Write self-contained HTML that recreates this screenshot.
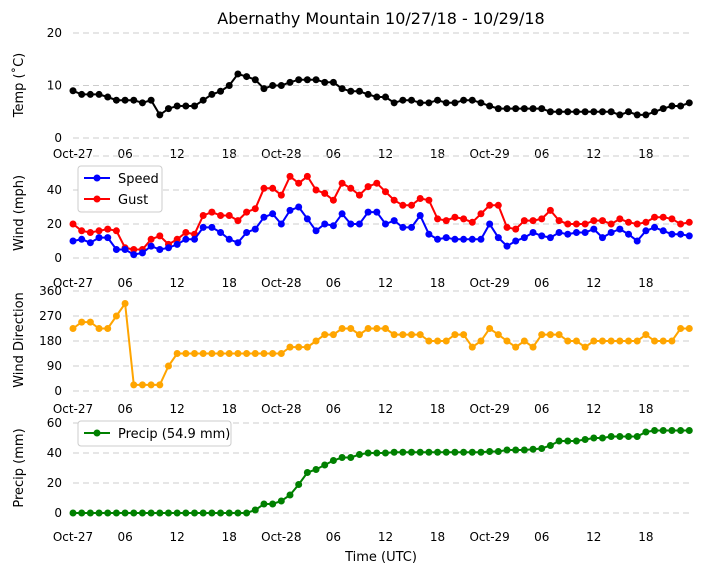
<!DOCTYPE html>
<html><head><meta charset="utf-8"><style>
body{margin:0;background:#fff;font-family:"Liberation Sans","DejaVu Sans",sans-serif}
svg text{font-family:"DejaVu Sans","Liberation Sans",sans-serif}
</style></head><body>
<svg id="c" width="704" height="573" xmlns="http://www.w3.org/2000/svg">
<text x="381" y="24" font-size="16" text-anchor="middle">Abernathy Mountain 10/27/18 - 10/29/18</text>
<text x="381" y="561" font-size="13" text-anchor="middle">Time (UTC)</text>
</svg>
<script>
const tickLabels=["Oct-27","06","12","18","Oct-28","06","12","18","Oct-29","06","12","18"];
const temp=[9,8.3,8.3,8.3,7.8,7.2,7.2,7.2,6.7,7.2,4.4,5.6,6.1,6.1,6.1,7.2,8.3,8.9,10,12.2,11.7,11.1,9.4,10,10,10.6,11.1,11.1,11.1,10.6,10.6,9.4,8.9,8.9,8.3,7.8,7.8,6.7,7.2,7.2,6.7,6.7,7.2,6.7,6.7,7.2,7.2,6.7,6.1,5.6,5.6,5.6,5.6,5.6,5.6,5,5,5,5,5,5,5,5,4.4,5,4.4,4.4,5,5.6,6.1,6.1,6.7];
const speed=[10,11,9,12,12,5,5,2,3,7,5,6,8,11,11,18,18,15,11,9,15,17,24,26,20,28,30,23,16,20,19,26,20,20,27,27,20,22,18,18,25,14,11,12,11,11,11,11,20,12,7,10,12,15,13,12,15,14,15,15,17,12,15,17,14,10,16,18,16,14,14,13];
const gust=[20,16,15,16,17,16,6,5,5,11,13,8,11,15,14,25,27,25,25,22,27,29,41,41,37,48,44,48,40,38,34,44,41,37,42,44,39,34,31,31,35,34,23,22,24,23,21,26,31,31,18,17,22,22,23,28,22,20,20,20,22,22,20,23,21,20,21,24,24,23,20,21];
const dir=[225,248,248,225,225,270,315,22,22,22,22,90,135,135,135,135,135,135,135,135,135,135,135,135,135,158,158,158,180,203,203,225,225,203,225,225,225,203,203,203,203,180,180,180,203,203,158,180,225,203,180,158,180,158,203,203,203,180,180,158,180,180,180,180,180,180,203,180,180,180,225,225];
const precip=[0,0,0,0,0,0,0,0,0,0,0,0,0,0,0,0,0,0,0,0,0,2,6,6,8,12,19,27,29,32,35,37,37,39,40,40,40,40.5,40.5,40.5,40.5,40.5,40.5,40.5,40.5,40.5,40.5,40.5,41,41,42,42,42,42.5,43,45,48,48,48,49,50,50,51,51,51,51,54,55,55,55,55,55];
const NS="http://www.w3.org/2000/svg",svg=document.getElementById('c');
const X=h=>73+h*8.68;
function el(t,a,txt){const e=document.createElementNS(NS,t);for(const k in a)e.setAttribute(k,a[k]);if(txt!==undefined)e.textContent=txt;svg.appendChild(e);return e;}
const panels=[
 {name:'temp',y0:138,y1:33,min:0,max:20,ticks:[0,10,20],lab:'Temp (˚C)',labY:85,tickY:158},
 {name:'wind',y0:258,y1:156,min:0,max:60,ticks:[0,20,40],grid:[0,20,40,60],lab:'Wind (mph)',labY:213,tickY:287},
 {name:'dir',y0:391,y1:291,min:0,max:360,ticks:[0,90,180,270,360],lab:'Wind Direction',labY:340,tickY:413},
 {name:'precip',y0:513,y1:423,min:0,max:60,ticks:[0,20,40,60],lab:'Precip (mm)',labY:468,tickY:541}];
panels.forEach(p=>{
 p.Y=v=>p.y0-(v-p.min)/(p.max-p.min)*(p.y0-p.y1);
 (p.grid||p.ticks).forEach(t=>{const g=el('line',{x1:73,x2:690,y1:p.Y(t),y2:p.Y(t),stroke:'#ccc','stroke-dasharray':'6,4','stroke-width':1});
  
  });
 p.ticks.forEach(t=>{const e=el('text',{x:62,y:p.Y(t)+4,'font-size':12,'text-anchor':'end'},String(t));
  
  });
 tickLabels.forEach((l,i)=>{const e=el('text',{x:X(i*6),y:p.tickY,'font-size':12,'text-anchor':'middle'},l);
  
  });
 const yl=el('text',{x:0,y:0,'font-size':13,'text-anchor':'middle',transform:`translate(23,${p.labY}) rotate(-90)`},p.lab);
 
 
});
function series(p,data,color,name){
 const pts=data.map((v,i)=>X(i).toFixed(1)+','+p.Y(v).toFixed(1)).join(' ');
 const l=el('polyline',{points:pts,fill:'none',stroke:color,'stroke-width':2});
 
 
 data.forEach((v,i)=>{const c=el('circle',{cx:X(i),cy:p.Y(v),r:3.5,fill:color});
  
  });
}
series(panels[0],temp,'#000','temp');
series(panels[1],gust,'#f00','gust');
series(panels[1],speed,'#00f','speed');
series(panels[2],dir,'#ffa500','direction');
series(panels[3],precip,'#008000','precip');
function legend(x,y,w,items,name){
 const b=el('rect',{x:x,y:y,width:w,height:items.length*21+4,rx:3,fill:'#fff',stroke:'#ccc'});
 
 
 items.forEach((it,i)=>{const yy=y+12+i*21;
  const l=el('line',{x1:x+6,x2:x+32,y1:yy,y2:yy,stroke:it[1],'stroke-width':2});
  
  
  const c=el('circle',{cx:x+19,cy:yy,r:3.5,fill:it[1]});
  
  
  const t=el('text',{x:x+40,y:yy+5,'font-size':13},it[0]);
  
  });
}
legend(78,166,84,[['Speed','#00f'],['Gust','#f00']],'wind-legend');
legend(78,421,153,[['Precip (54.9 mm)','#008000']],'precip-legend');
</script>
</body></html>
